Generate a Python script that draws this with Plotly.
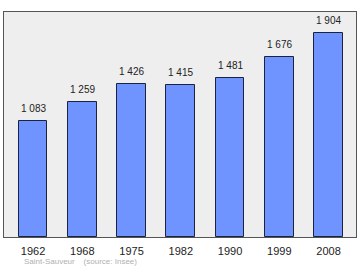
import plotly.graph_objects as go

years = ["1962", "1968", "1975", "1982", "1990", "1999", "2008"]
population = [1083, 1259, 1426, 1415, 1481, 1676, 1904]
labels = ["1 083", "1 259", "1 426", "1 415", "1 481", "1 676", "1 904"]

fig = go.Figure()
fig.add_trace(go.Bar(
    x=years, y=population,
    width=0.58,
    marker=dict(color="#6f94ff", line=dict(color="#1a2340", width=1)),
    hoverinfo="skip",
))
for i, (v, lab) in enumerate(zip(population, labels)):
    fig.add_annotation(x=i, y=v, xref="x", yref="y", text=lab, showarrow=False, yanchor="bottom",
                       yshift=5, font=dict(family="Liberation Sans, Arial", size=10, color="#222222"))

fig.add_annotation(xref="paper", yref="paper", x=0.05, y=-0.111, xanchor="left", yanchor="middle",
                   text="Saint-Sauveur &nbsp;&nbsp; (source: Insee)", showarrow=False,
                   font=dict(family="Liberation Sans, Arial", size=8, color="#b0b0b0"))

fig.update_layout(
    width=360, height=270,
    margin=dict(l=4, r=4, t=12, b=33),
    paper_bgcolor="white",
    plot_bgcolor="#eeeeee",
    showlegend=False,
    bargap=0,
)
fig.update_xaxes(type="category", range=[-0.589, 6.558], showgrid=False, ticks="",
                 ticklabelstandoff=4,
                 showline=True, mirror=True, linecolor="#555555", linewidth=1,
                 tickfont=dict(family="Liberation Sans, Arial", size=11, color="#222222"))
fig.update_yaxes(range=[0, 2097], showgrid=False, showticklabels=False, zeroline=False,
                 showline=True, mirror=True, linecolor="#555555", linewidth=1)

fig.write_html("out.html")
